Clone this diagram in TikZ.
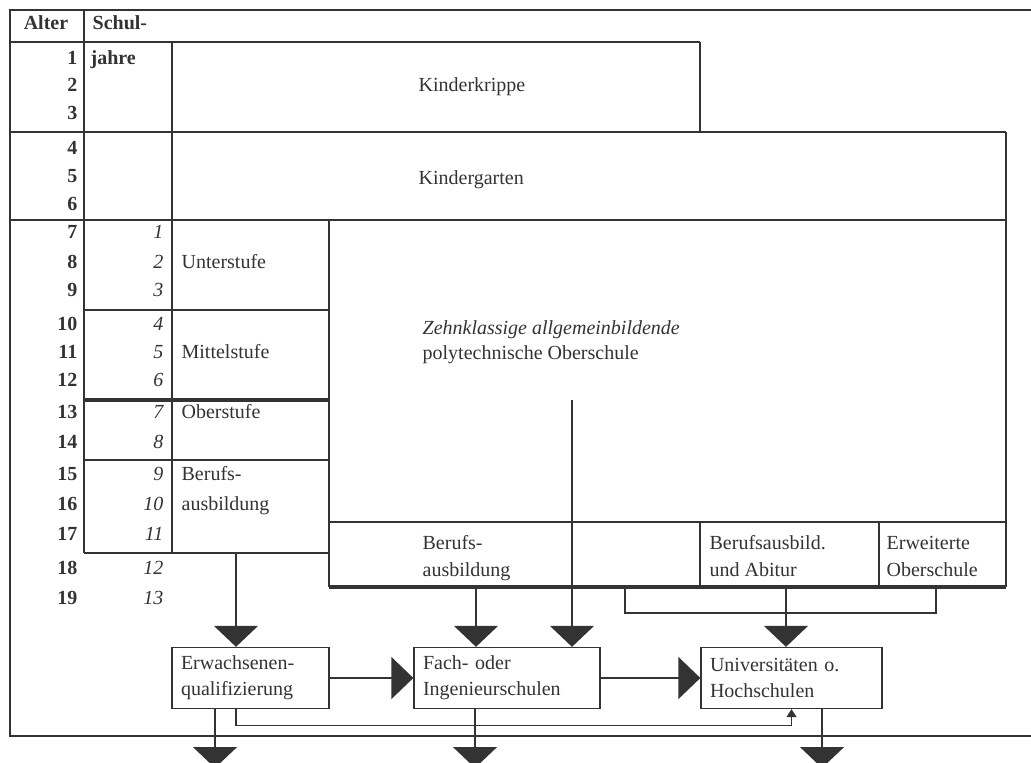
\documentclass[tikz,border=0pt]{standalone}
\usepackage{fontspec}
\setmainfont{Liberation Serif}
\usetikzlibrary{arrows.meta}
\newcommand\sz{\fontsize{20}{26}\selectfont}
\tikzset{
  bigtip/.style={-{Triangle[width=44pt,length=21pt]}},
  sidetip/.style={-{Triangle[width=42pt,length=22pt]}},
  smalltip/.style={-{Triangle[width=10pt,length=8pt]}},
  stufe/.style={draw, minimum height=61pt, align=left, inner xsep=9pt},
  lbl/.style={anchor=mid west, inner sep=0pt},
  num/.style={anchor=mid east, inner sep=0pt}
}
\begin{document}
\begin{tikzpicture}[x=1pt,y=-1pt,line width=1.3pt,color=black!80,font=\sz]
\useasboundingbox (0,0) rectangle (1031,763);
% frame and table lines
\draw (10,10) rectangle (1040,736);
\draw (10,42) -- (700,42);
\draw (84,10) -- (84,553);
\draw (172,42) -- (172,553);
\draw (10,132) -- (1006,132);
\draw (10,220) -- (1006,220);
\foreach \y in {310,460,553} {
\draw (84,\y) -- (329,\y);
}
\draw[line width=3.5pt] (84,400) -- (329,400);
\draw (700,42) -- (700,132);
\draw (1006,132) -- (1006,587);
\draw (329,220) -- (329,587);
\draw (329,522) -- (1006,522);
\foreach \x in {700,879} {
\draw (\x,522) -- (\x,587);
}
\draw[line width=3.5pt] (329,587) -- (1006,587);
% header
\node[anchor=mid,inner sep=0pt,font=\sz\bfseries] (alter) at (46,27) {Alter};
\node[lbl,font=\sz\bfseries] (schul) at (92,27) {Schul-};
\node[lbl,font=\sz\bfseries] (jahre) at (90,62) {jahre};
\foreach \n/\y in {1/62,2/89,3/117,4/152,5/180,6/208,7/236,8/266,9/294,10/328,
  11/356,12/384,13/416,14/446,15/478,16/508,17/538,18/572,19/602} {
\node[num,font=\sz\bfseries] (alt\n) at (78,\y) {\n};
}
\foreach \n/\y in {1/236,2/266,3/294,4/328,5/356,6/384,7/416,8/446,9/478,
  10/508,11/538,12/572,13/602} {
\node[num,font=\sz\itshape] (sj\n) at (164,\y) {\n};
}
% stages
\node[lbl] (unter) at (181,266) {Unterstufe};
\node[lbl] (mittel) at (181,356) {Mittelstufe};
\node[lbl] (ober) at (181,416) {Oberstufe};
\node[lbl] (bausb1) at (181,478) {Berufs-};
\node[lbl] (bausb2) at (181,508) {ausbildung};
\node[lbl] (krippe) at (418,89) {Kinderkrippe};
\node[lbl] (garten) at (418,182) {Kindergarten};
\node[lbl,font=\sz\itshape] (pos1) at (422,332) {Zehnklassige allgemeinbildende};
\node[lbl] (pos2) at (422,357) {polytechnische Oberschule};
\node[lbl] (beruf1) at (422,547) {Berufs-};
\node[lbl] (beruf2) at (422,574) {ausbildung};
\node[lbl] (abi1) at (709,547) {Berufsausbild.};
\node[lbl] (abi2) at (709,574) {und Abitur};
\node[lbl] (eos1) at (886,547) {Erweiterte};
\node[lbl] (eos2) at (886,574) {Oberschule};
% further education
\node[stufe,text width=139pt] (erw) at (250.5,678) {Erwachsenen-\\qualifizierung};
\node[stufe,text width=168pt] (fach) at (507,678) {Fach- oder\\Ingenieurschulen};
\node[stufe,text width=163pt] (uni) at (791.5,678) {Universitäten o.\\Hochschulen};
\coordinate (c1) at (236,553);
\coordinate (c2) at (476,587);
\coordinate (c3) at (572,400);
\coordinate (c4) at (786,587);
\coordinate (b1) at (625,587);
\coordinate (b2) at (936,587);
\coordinate (o1) at (215,768);
\coordinate (o2) at (475,768);
\coordinate (o3) at (822,768);
\draw[bigtip] (c1) -- (c1 |- erw.north);
\draw[bigtip] (c2) -- (c2 |- fach.north);
\draw[bigtip] (c3) -- (c3 |- fach.north);
\draw (b1) -- ++(0,26) -| (b2);
\draw[bigtip] (c4) -- (c4 |- uni.north);
\draw[sidetip] (erw) -- (fach);
\draw[sidetip] (fach) -- (uni);
\draw[smalltip] (erw.south -| c1) -- ++(0,16) -| (uni.south);
\foreach \o/\b in {o1/erw,o2/fach,o3/uni} {
\draw[bigtip] (\o |- \b.south) -- (\o);
}
\end{tikzpicture}
\end{document}
